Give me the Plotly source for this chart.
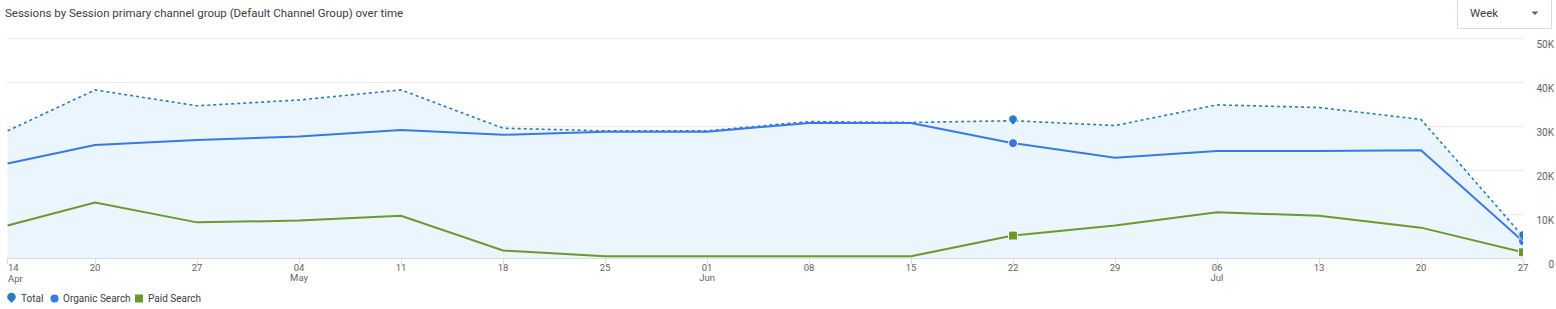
import plotly.graph_objects as go

weeks = ["2024-04-14", "2024-04-20", "2024-04-27", "2024-05-04", "2024-05-11", "2024-05-18",
         "2024-05-25", "2024-06-01", "2024-06-08", "2024-06-15", "2024-06-22", "2024-06-29",
         "2024-07-06", "2024-07-13", "2024-07-20", "2024-07-27"]
total = [28900, 38200, 34600, 35900, 38200, 29500, 28900, 28900, 31000, 30800,
         31200, 30100, 34800, 34200, 31500, 4900]
organic = [21500, 25700, 26800, 27600, 29100, 28000, 28700, 28700, 30700, 30700,
           26100, 22800, 24300, 24300, 24500, 3800]
paid = [7400, 12600, 8100, 8500, 9600, 1700, 400, 400, 400, 400,
        5100, 7400, 10400, 9600, 6900, 1300]
marked_idx = [10, 15]
day_text = ["14", "20", "27", "04", "11", "18", "25", "01", "08", "15", "22", "29",
            "06", "13", "20", "27"]
month_ticks = ["2024-04-14", "2024-05-04", "2024-06-01", "2024-07-06"]
month_text = ["Apr", "May", "Jun", "Jul"]
y_ticks = [0, 10000, 20000, 30000, 40000, 50000]
y_labels = ["0", "10K", "20K", "30K", "40K", "50K"]
legend_names = ["Total", "Organic Search", "Paid Search"]

C_TOTAL = "#2b7bc4"
C_ORG = "#3b78e7"
C_PAID = "#6a9a2d"
C_FILL = "#eaf5fe"
FONT = "Roboto"
TICK_FONT = dict(family=FONT, size=10, color="#5f6368")
SMALL_FONT = dict(family=FONT, size=9.5, color="#5f6368")

W, H = 1556, 309
ML, MT, MB = 7, 36, 51
PW = W - ML
PH = H - MT - MB


def px_x(p):
    return (p - ML) / PW


def px_y(p):
    return (H - MB - p) / PH


PIN = ("M 0,-4.5 C -1.8,-2.2 -4.3,-0.8 -4.3,1.6 C -4.3,4 -2.3,5.8 0,5.8 "
       "C 2.3,5.8 4.3,4 4.3,1.6 C 4.3,-0.8 1.8,-2.2 0,-4.5 Z")

fig = go.Figure()

fig.add_trace(go.Scatter(x=weeks, y=total, mode="lines", fill="tozeroy", fillcolor=C_FILL,
                         line=dict(color=C_TOTAL, width=1.6, dash="dot"), showlegend=False,
                         hoverinfo="skip"))
fig.add_trace(go.Scatter(x=weeks, y=organic, mode="lines",
                         line=dict(color=C_ORG, width=2), showlegend=False))
fig.add_trace(go.Scatter(x=weeks, y=paid, mode="lines",
                         line=dict(color=C_PAID, width=2), showlegend=False))

mx = [weeks[i] for i in marked_idx]
fig.add_trace(go.Scatter(x=mx, y=[organic[i] for i in marked_idx], mode="markers",
                         showlegend=False,
                         marker=dict(symbol="circle", size=9, color=C_ORG,
                                     line=dict(color="white", width=1))))
fig.add_trace(go.Scatter(x=mx, y=[paid[i] for i in marked_idx], mode="markers",
                         showlegend=False,
                         marker=dict(symbol="square", size=9, color=C_PAID,
                                     line=dict(color="white", width=1))))
# invisible trace to activate the month axis
fig.add_trace(go.Scatter(x=[weeks[0]], y=[0], xaxis="x2", mode="markers",
                         marker=dict(opacity=0), showlegend=False, hoverinfo="skip"))

# pin markers for Total, anchored at data points
for i in marked_idx:
    fig.add_shape(type="path", xref="x", yref="y", xsizemode="pixel", ysizemode="pixel",
                  xanchor=weeks[i], yanchor=total[i], path=PIN,
                  fillcolor=C_TOTAL, line=dict(color="white", width=0.8), layer="above")

x_right = (1523 - ML) / PW
y_top = 50000 * PH / (258 - 38)
x_range = ["2024-04-13 23:00", weeks[-1]]

fig.update_layout(
    width=W, height=H,
    margin=dict(l=ML, r=0, t=MT, b=MB, autoexpand=False),
    paper_bgcolor="white", plot_bgcolor="white",
    font=dict(family=FONT, size=10, color="#5f6368"),
    xaxis=dict(type="date", domain=[0, x_right], automargin=False, range=x_range,
               tickvals=weeks, ticktext=[""] + day_text[1:], showgrid=False,
               ticks="outside", ticklen=5, tickcolor="#dadce0", ticklabelstandoff=-4,
               showline=False, zeroline=False,
               tickfont=SMALL_FONT, fixedrange=True),
    xaxis2=dict(type="date", domain=[0, x_right], automargin=False, range=x_range,
                overlaying="x", anchor="y", side="bottom",
                tickvals=month_ticks, ticktext=[""] + month_text[1:], showgrid=False,
                ticks="", ticklabelstandoff=12, showline=False, zeroline=False,
                tickfont=SMALL_FONT, fixedrange=True),
    yaxis=dict(range=[0, y_top], tickvals=y_ticks, ticktext=y_labels, automargin=False,
               anchor="free", position=1.0, side="left",
               showgrid=True, gridcolor="#e8eaed", gridwidth=1,
               zeroline=True, zerolinecolor="#dadce0", zerolinewidth=1,
               ticks="", ticklabelstandoff=2, ticklabelshift=6,
               tickfont=TICK_FONT, fixedrange=True),
    showlegend=False,
)

# first tick labels, left-aligned at the first tick
fig.add_annotation(text=day_text[0], xref="x", yref="paper", x=weeks[0], y=px_y(267.5),
                   xanchor="left", yanchor="middle", showarrow=False, xshift=-2,
                   font=SMALL_FONT)
fig.add_annotation(text=month_text[0], xref="x", yref="paper", x=month_ticks[0],
                   y=px_y(278.5), xanchor="left", yanchor="middle", showarrow=False,
                   xshift=-2, font=SMALL_FONT)

fig.add_annotation(text="Sessions by Session primary channel group (Default Channel Group) over time",
                   xref="paper", yref="paper", x=px_x(3), y=px_y(12.5),
                   xanchor="left", yanchor="middle", showarrow=False,
                   font=dict(family=FONT, size=11.5, color="#3c4043"))

# custom legend
LY = px_y(298.5)
fig.add_shape(type="path", xref="paper", yref="paper", xsizemode="pixel", ysizemode="pixel",
              xanchor=px_x(11.5), yanchor=LY, path=PIN, fillcolor=C_TOTAL,
              line=dict(width=0))
fig.add_shape(type="circle", xref="paper", yref="paper", xsizemode="pixel", ysizemode="pixel",
              xanchor=px_x(54.5), yanchor=LY, x0=-4, x1=4, y0=-4, y1=4,
              fillcolor=C_ORG, line=dict(width=0))
fig.add_shape(type="rect", xref="paper", yref="paper", xsizemode="pixel", ysizemode="pixel",
              xanchor=px_x(139), yanchor=LY, x0=-4, x1=4, y0=-4, y1=4,
              fillcolor=C_PAID, line=dict(width=0))
for name, px in zip(legend_names, [19, 61, 146]):
    fig.add_annotation(text=name, xref="paper", yref="paper", x=px_x(px), y=LY,
                       xanchor="left", yanchor="middle", showarrow=False,
                       font=dict(family=FONT, size=10, color="#3c4043"))

# "Week" dropdown control
fig.add_shape(type="rect", xref="paper", yref="paper",
              x0=px_x(1457.5), x1=px_x(1551.5), y0=px_y(28.5), y1=px_y(-3),
              line=dict(color="#dadce0", width=1), fillcolor="white", layer="above")
fig.add_annotation(text="Week", xref="paper", yref="paper", x=px_x(1468), y=px_y(12.5),
                   xanchor="left", yanchor="middle", showarrow=False,
                   font=dict(family=FONT, size=11.5, color="#3c4043"))
fig.add_shape(type="path", xref="paper", yref="paper", xsizemode="pixel", ysizemode="pixel",
              xanchor=px_x(1535), yanchor=px_y(13), path="M -3.5,1.5 L 3.5,1.5 L 0,-2 Z",
              fillcolor="#5f6368", line=dict(width=0), layer="above")

fig.write_html("out.html")
